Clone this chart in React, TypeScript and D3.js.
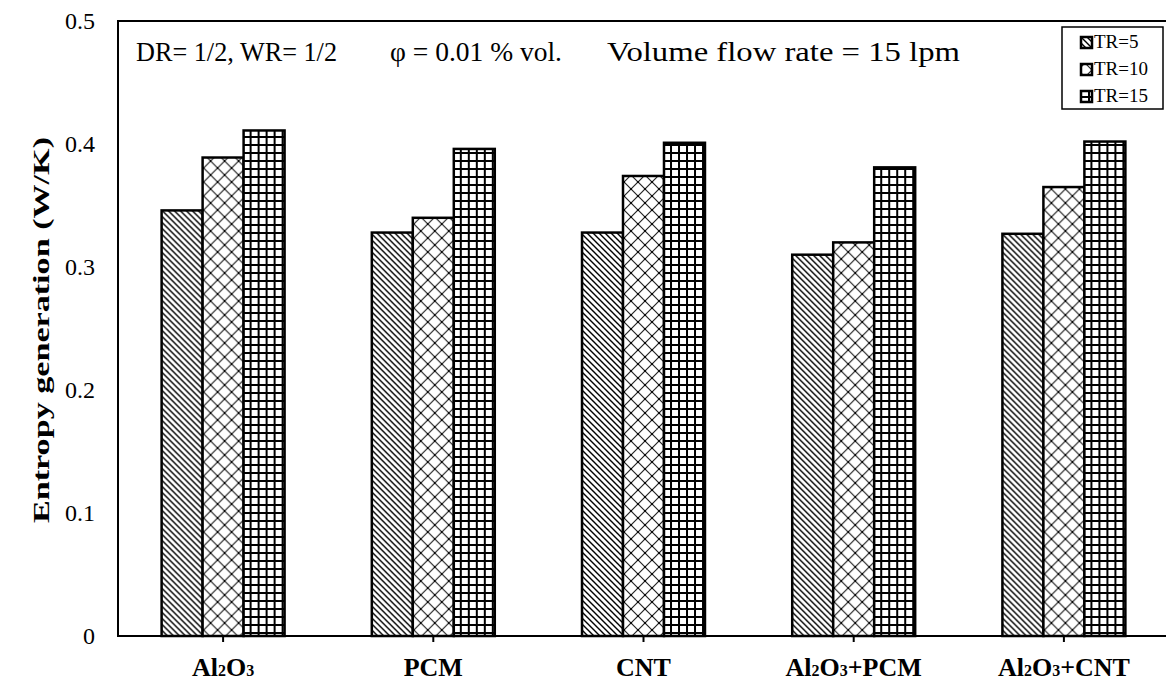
import React from "react";
import * as d3 from "d3";

const categories = ["Al2O3", "PCM", "CNT", "Al2O3+PCM", "Al2O3+CNT"];
const seriesNames = ["TR=5", "TR=10", "TR=15"];
const tr5 = [0.346, 0.328, 0.328, 0.31, 0.327];
const tr10 = [0.389, 0.34, 0.374, 0.32, 0.365];
const tr15 = [0.411, 0.396, 0.401, 0.381, 0.402];
const yTicks = [0, 0.1, 0.2, 0.3, 0.4, 0.5];
const yTickLabels = ["0", "0.1", "0.2", "0.3", "0.4", "0.5"];

const W = 1166;
const H = 684;
const M = { left: 118, top: 21, right: -3, bottom: 48 };

function CatLabel({ name, x, y }: { name: string; x: number; y: number }) {
  const parts: { t: string; sub: boolean }[] = [];
  for (const ch of name) {
    const sub = /[0-9]/.test(ch);
    if (parts.length && parts[parts.length - 1].sub === sub) parts[parts.length - 1].t += ch;
    else parts.push({ t: ch, sub });
  }
  return (
    <text x={x} y={y} textAnchor="middle" fontFamily="'Liberation Serif', serif" fontWeight="bold" fontSize={26}>
      {parts.map((p, i) =>
        p.sub ? (
          <tspan key={i} fontSize={16}>{p.t}</tspan>
        ) : (
          <tspan key={i}>{p.t}</tspan>
        )
      )}
    </text>
  );
}

export default function App() {
  const x0 = d3
    .scaleBand<string>()
    .domain(categories)
    .range([M.left, W - M.right])
    .paddingInner(0)
    .paddingOuter(0);
  const groupW = x0.bandwidth() * 0.585;
  const x1 = d3.scaleBand<string>().domain(seriesNames).range([0, groupW]).padding(0);
  const y = d3.scaleLinear().domain([0, 0.5]).range([H - M.bottom, M.top]);
  const series = [tr5, tr10, tr15];
  const patIds = ["p5", "p10", "p15"];
  const font = "'Liberation Serif', 'Times New Roman', serif";

  return (
    <div style={{ position: "absolute", left: 0, top: 0, width: W, height: H, overflow: "hidden", background: "#fff" }}>
      <svg width={W} height={H} style={{ display: "block" }}>
        <defs>
          <pattern id="p5" patternUnits="userSpaceOnUse" width={6} height={6}>
            <rect width={6} height={6} fill="#fff" />
            <path d="M-1,-1 L7,7 M-1,5 L1,7 M5,-1 L7,1" stroke="#000" strokeWidth={1.4} />
          </pattern>
          <pattern id="p10" patternUnits="userSpaceOnUse" width={14} height={14}>
            <rect width={14} height={14} fill="#fff" />
            <path d="M0,0 L14,14 M14,0 L0,14" stroke="#222" strokeWidth={1.2} />
            <circle cx={7} cy={7} r={1.1} fill="#000" />
            <circle cx={0} cy={0} r={1.1} fill="#000" />
            <circle cx={14} cy={0} r={1.1} fill="#000" />
            <circle cx={0} cy={14} r={1.1} fill="#000" />
            <circle cx={14} cy={14} r={1.1} fill="#000" />
          </pattern>
          <pattern id="p15" patternUnits="userSpaceOnUse" width={8} height={8}>
            <rect width={8} height={8} fill="#fff" />
            <path d="M1,0 L1,8 M0,1 L8,1" stroke="#000" strokeWidth={2} />
          </pattern>
        </defs>

        {categories.map((c, ci) => {
          const gx = (x0(c) ?? 0) + (x0.bandwidth() - groupW) / 2;
          return (
            <g key={c} transform={`translate(${gx},0)`}>
              {series.map((s, si) => (
                <rect
                  key={si}
                  x={x1(seriesNames[si])}
                  y={y(s[ci])}
                  width={x1.bandwidth()}
                  height={y(0) - y(s[ci])}
                  fill={`url(#${patIds[si]})`}
                  stroke="#000"
                  strokeWidth={2.5}
                />
              ))}
            </g>
          );
        })}

        <rect
          x={M.left}
          y={M.top}
          width={W - M.right - M.left}
          height={H - M.bottom - M.top}
          fill="none"
          stroke="#000"
          strokeWidth={2}
        />

        {categories.map((c) => {
          const cx = (x0(c) ?? 0) + x0.bandwidth() / 2;
          return (
            <g key={c}>
              <line x1={cx} x2={cx} y1={y(0)} y2={y(0) + 6} stroke="#000" strokeWidth={2} />
              <CatLabel name={c} x={cx} y={676} />
            </g>
          );
        })}

        {yTicks.map((t, i) => (
          <text key={t} x={95} y={y(t) + 8} textAnchor="end" fontFamily={font} fontSize={24}>
            {yTickLabels[i]}
          </text>
        ))}

        <text
          transform={`translate(49,${(523 + 137) / 2}) rotate(-90)`}
          textAnchor="middle"
          fontFamily={font}
          fontWeight="bold"
          fontSize={24}
          textLength={386}
          lengthAdjust="spacingAndGlyphs"
        >
          Entropy generation (W/K)
        </text>

        <text x={136} y={61} fontFamily={font} fontSize={27} textLength={201} lengthAdjust="spacingAndGlyphs">DR= 1/2, WR= 1/2</text>
        <text x={390} y={61} fontFamily={font} fontSize={27} textLength={172} lengthAdjust="spacingAndGlyphs">φ = 0.01 % vol.</text>
        <text x={607} y={61} fontFamily={font} fontSize={27} textLength={353} lengthAdjust="spacingAndGlyphs">Volume flow rate = 15 lpm</text>

        <rect x={1062} y={27} width={101} height={82} fill="#fff" stroke="#000" strokeWidth={1.5} />
        {seriesNames.map((n, i) => (
          <g key={n}>
            <rect x={1081} y={37 + i * 27} width={11} height={11} fill={`url(#${patIds[i]})`} stroke="#000" strokeWidth={2.5} />
            <text x={1094} y={48 + i * 27} fontFamily={font} fontSize={19}>{n}</text>
          </g>
        ))}
      </svg>
    </div>
  );
}
